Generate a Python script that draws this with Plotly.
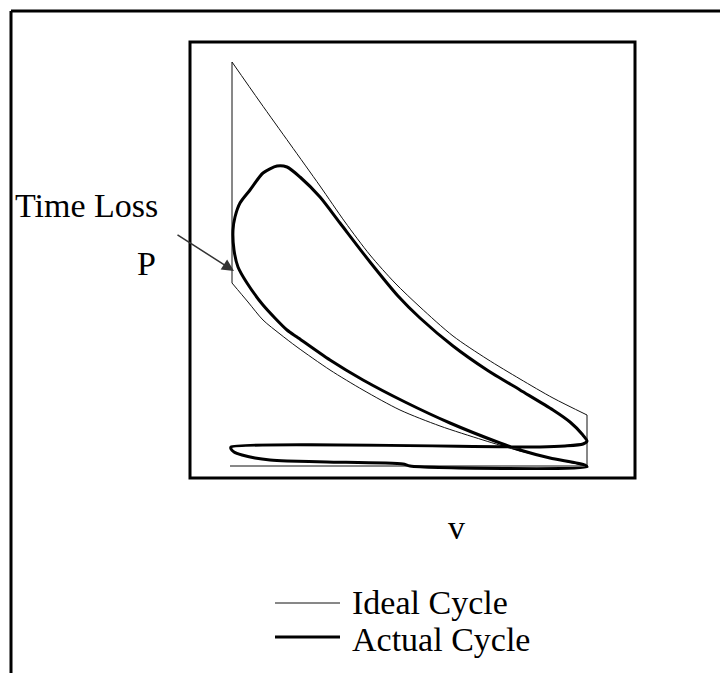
import plotly.graph_objects as go

# Values (arbitrary units, no scale shown)
ideal_exp_v = [42, 70, 100, 130, 155, 180, 205, 230, 263, 297, 330, 363, 397]
ideal_exp_p = [416, 376, 334, 292, 256, 223, 195, 171, 142, 119, 99, 80, 63]

ideal_comp_v = [42, 58, 73, 90, 107, 140, 173, 210, 250, 293, 330, 360, 397]
ideal_comp_p = [195, 176, 158, 144, 131, 108, 88, 68, 52, 38, 27, 20, 12]

# straight parts of the ideal cycle (constant volume lines and exhaust/intake line)
ideal_line_v = [42, 42, None, 397, 397, None, 40, 397]
ideal_line_p = [195, 416, None, 12, 63, None, 12, 12]

actual_v = [87, 97, 110, 130, 150, 180, 208, 230, 263, 297, 330, 363, 380, 392, 397,
            393, 375, 350, 41, 41, 44, 52, 65, 80, 97, 137, 213, 220, 397,
            395, 360, 330, 310, 260, 215, 173, 140, 107, 97, 73, 57, 48, 44, 43, 45,
            50, 60, 73, 87]
actual_p = [312, 311, 301, 281, 255, 216, 182, 160, 132, 108, 88, 68, 56, 44, 37,
            34, 32, 31, 31, 29, 26, 23, 20, 18, 17, 16, 14, 12, 11,
            13, 20, 28, 35, 55, 76, 98, 118, 141, 148, 173, 195, 211, 228, 248, 261,
            275, 288, 305, 312]

legend_names = ["Ideal Cycle", "Actual Cycle"]
FONT = "Liberation Serif"
FS = 34

fig = go.Figure()
fig.add_trace(go.Scatter(x=ideal_exp_v, y=ideal_exp_p, mode="lines",
                         line=dict(color="#111", width=1, shape="spline", smoothing=0.8),
                         showlegend=False, hoverinfo="skip"))
fig.add_trace(go.Scatter(x=ideal_comp_v, y=ideal_comp_p, mode="lines",
                         line=dict(color="#111", width=1, shape="spline", smoothing=0.8),
                         showlegend=False, hoverinfo="skip"))
fig.add_trace(go.Scatter(x=ideal_line_v, y=ideal_line_p, mode="lines",
                         line=dict(color="#111", width=1),
                         showlegend=False, hoverinfo="skip"))
fig.add_trace(go.Scatter(x=actual_v, y=actual_p, mode="lines",
                         line=dict(color="#000", width=3, shape="spline", smoothing=0.7),
                         showlegend=False, hoverinfo="skip"))

OFF = 8  # page body margin
W, H = 728 - OFF, 673 - OFF
L, R, T, B = 190, 635, 42, 478  # plot area in page pixels


def px(x):
    return (x - L) / (R - L)


def py(y):
    return (B - y) / (B - T)


shapes = [
    # inner plot frame
    dict(type="rect", xref="paper", yref="paper", x0=0, y0=0, x1=1, y1=1,
         line=dict(color="#000", width=3)),
    # outer frame (left & top)
    dict(type="line", xref="paper", yref="paper", x0=px(11), y0=py(11), x1=px(740), y1=py(11),
         line=dict(color="#000", width=3)),
    dict(type="line", xref="paper", yref="paper", x0=px(11), y0=py(11), x1=px(11), y1=py(690),
         line=dict(color="#000", width=3)),
    # legend samples
    dict(type="line", xref="paper", yref="paper", x0=px(275), y0=py(603), x1=px(340), y1=py(603),
         line=dict(color="#111", width=1)),
    dict(type="line", xref="paper", yref="paper", x0=px(275), y0=py(637), x1=px(340), y1=py(637),
         line=dict(color="#000", width=3)),
]

annotations = [
    dict(text="Time Loss", xref="paper", yref="paper", x=px(13), y=py(206),
         xanchor="left", yanchor="middle", showarrow=False, font=dict(family=FONT, size=FS, color="#000")),
    dict(text="P", xref="paper", yref="paper", x=px(146), y=py(263),
         xanchor="center", yanchor="middle", showarrow=False, font=dict(family=FONT, size=FS, color="#000")),
    dict(text="v", xref="paper", yref="paper", x=px(456), y=py(527),
         xanchor="center", yanchor="middle", showarrow=False, font=dict(family=FONT, size=FS, color="#000")),
    dict(text=legend_names[0], xref="paper", yref="paper", x=px(350), y=py(602),
         xanchor="left", yanchor="middle", showarrow=False, font=dict(family=FONT, size=FS, color="#000")),
    dict(text=legend_names[1], xref="paper", yref="paper", x=px(350), y=py(639),
         xanchor="left", yanchor="middle", showarrow=False, font=dict(family=FONT, size=FS, color="#000")),
    # time-loss arrow
    dict(text="", x=44, y=207, xref="x", yref="y", showarrow=True, ax=-58, ay=-37,
         arrowhead=2, arrowsize=1.6, arrowwidth=1.5, arrowcolor="#333", standoff=0),
]

fig.update_layout(
    width=W, height=H,
    margin=dict(l=L - OFF, r=728 - R, t=T - OFF, b=673 - B),
    paper_bgcolor="white", plot_bgcolor="white",
    xaxis=dict(range=[0, 445], visible=False, fixedrange=True),
    yaxis=dict(range=[0, 436], visible=False, fixedrange=True),
    shapes=shapes, annotations=annotations,
    showlegend=False,
)

fig.write_html("out.html")
